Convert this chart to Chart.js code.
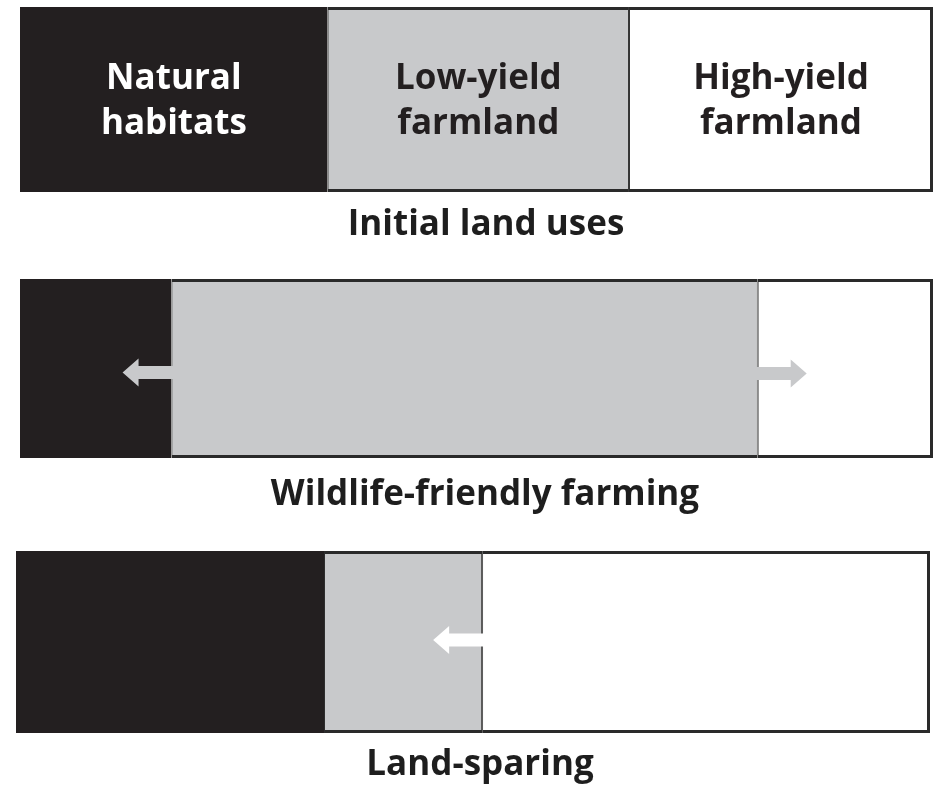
<!DOCTYPE html>
<html>
<head>
<meta charset="utf-8">
<script src="https://cdn.jsdelivr.net/npm/chart.js@4/dist/chart.umd.min.js"></script>
<style>
  html, body { margin: 0; padding: 0; background: #ffffff; }
  body { width: 935px; height: 788px; position: relative; overflow: hidden; }
  .panel { position: absolute; left: 0; width: 935px; }
</style>
</head>
<body>
<div class="panel" id="p0" style="top:0px;height:252px;"><canvas id="c0"></canvas></div>
<div class="panel" id="p1" style="top:270px;height:250px;"><canvas id="c1"></canvas></div>
<div class="panel" id="p2" style="top:540px;height:248px;"><canvas id="c2"></canvas></div>
<script>
// ---- data (share of the land strip, %) ----
const scenarios = ['Initial land uses', 'Wildlife-friendly farming', 'Land-sparing'];
const landUses = [['Natural', 'habitats'], ['Low-yield', 'farmland'], ['High-yield', 'farmland']];
const naturalHabitats = [33.7, 16.6, 33.7];
const lowYieldFarmland = [33.0, 64.2, 17.3];
const highYieldFarmland = [33.3, 19.2, 49.0];
// arrows: scenario index, land use that expands, direction (-1 left, +1 right)
const arrowScenario = [1, 1, 2];
const arrowLandUse = [1, 1, 2];
const arrowDirection = [-1, 1, -1];

// ---- styles ----
const fills = ['#231f20', '#c8c9cb', '#ffffff'];
const edge = '#2a2a2a';
const FONT = 'Open Sans';
const arrowYShift = [4, 5, -2];
const panelLayout = [
  { pad: { left: 20, right: 2, top: 7, bottom: 60 }, capDx: 9.5, capDy: 43 },
  { pad: { left: 20, right: 2, top: 9, bottom: 62 }, capDx: 8.5, capDy: 47 },
  { pad: { left: 16, right: 5, top: 11, bottom: 55 }, capDx: 7, capDy: 42 }
];
const series = [naturalHabitats, lowYieldFarmland, highYieldFarmland];
const borderWidths = [
  { top: 3, bottom: 3, left: 3, right: 0 },
  { top: 3, bottom: 3, left: 1, right: 1 },
  { top: 3, bottom: 3, left: 1, right: 3 }
];
const borderColors = ['#231f20', edge, edge];

const innerLabels = {
  id: 'innerLabels',
  afterDatasetsDraw(chart, args, opts) {
    if (!opts.show) return;
    const ctx = chart.ctx;
    ctx.save();
    ctx.font = 'bold 35px "' + FONT + '"';
    ctx.textAlign = 'center';
    ctx.textBaseline = 'middle';
    chart.data.datasets.forEach((ds, i) => {
      const el = chart.getDatasetMeta(i).data[0];
      const cx = (el.x + el.base) / 2;
      const lines = landUses[i];
      ctx.fillStyle = i === 0 ? '#ffffff' : '#231f20';
      ctx.fillText(lines[0], cx, el.y - 20);
      ctx.fillText(lines[1], cx, el.y + 25);
    });
    ctx.restore();
  }
};

const caption = {
  id: 'caption',
  afterDraw(chart, args, opts) {
    const ca = chart.chartArea;
    const ctx = chart.ctx;
    ctx.save();
    ctx.font = 'bold 35px "' + FONT + '"';
    ctx.textAlign = 'center';
    ctx.textBaseline = 'alphabetic';
    ctx.fillStyle = '#1e1e1e';
    ctx.fillText(opts.text, (ca.left + ca.right) / 2 + opts.dx, ca.bottom + opts.dy);
    ctx.restore();
  }
};

const arrows = {
  id: 'arrows',
  afterDatasetsDraw(chart, args, opts) {
    const row = opts.row;
    const ctx = chart.ctx;
    arrowScenario.forEach((s, k) => {
      if (s !== row) return;
      const src = arrowLandUse[k];
      const dir = arrowDirection[k];
      const el = chart.getDatasetMeta(src).data[0];
      const startX = dir < 0 ? Math.min(el.x, el.base) : Math.max(el.x, el.base);
      const y = el.y + arrowYShift[k];
      const len = 49, head = 16, hh = 14, sh = 6.5;
      const x0 = startX - dir * 2;
      const tip = startX + dir * len;
      const hb = tip - dir * head;
      ctx.save();
      ctx.fillStyle = fills[src];
      ctx.beginPath();
      ctx.moveTo(x0, y - sh);
      ctx.lineTo(hb, y - sh);
      ctx.lineTo(hb, y - hh);
      ctx.lineTo(tip, y);
      ctx.lineTo(hb, y + hh);
      ctx.lineTo(hb, y + sh);
      ctx.lineTo(x0, y + sh);
      ctx.closePath();
      ctx.fill();
      ctx.restore();
    });
  }
};

function makeChart(row) {
  const lay = panelLayout[row];
  return new Chart(document.getElementById('c' + row), {
    type: 'bar',
    data: {
      labels: [scenarios[row]],
      datasets: series.map((vals, i) => ({
        label: landUses[i].join(' '),
        data: [vals[row]],
        backgroundColor: fills[i],
        borderColor: borderColors[i],
        borderWidth: borderWidths[i],
        borderSkipped: false,
        inflateAmount: 0,
        barPercentage: 1,
        categoryPercentage: 1
      }))
    },
    options: {
      indexAxis: 'y',
      responsive: true,
      maintainAspectRatio: false,
      devicePixelRatio: 1,
      animation: false,
      events: [],
      layout: { padding: lay.pad },
      scales: {
        x: { type: 'linear', stacked: true, min: 0, max: 100, display: false },
        y: { stacked: true, display: false }
      },
      plugins: {
        legend: { display: false },
        tooltip: { enabled: false },
        title: { display: false },
        innerLabels: { show: row === 0 },
        arrows: { row: row },
        caption: { text: scenarios[row], dx: lay.capDx, dy: lay.capDy }
      }
    },
    plugins: [innerLabels, arrows, caption]
  });
}
[0, 1, 2].forEach(makeChart);
</script>
</body>
</html>
